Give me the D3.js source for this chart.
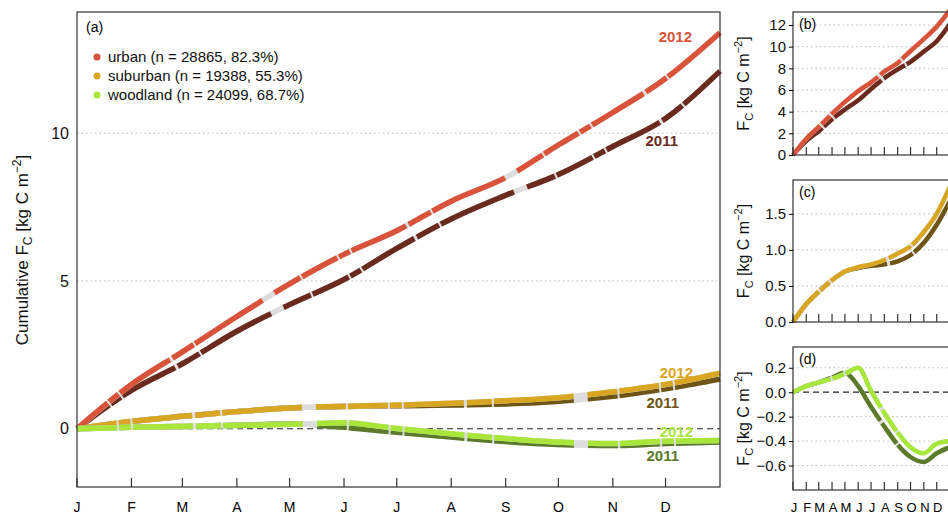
<!DOCTYPE html>
<html>
<head>
<meta charset="utf-8" />
<script src="https://cdn.jsdelivr.net/npm/d3@7"></script>
<style>
	* { margin:0px; }
	body { background:#fff; }
	text { font-family: "Liberation Sans", Arial, sans-serif; }
</style>
</head>
<body>
<svg id="chart" width="948" height="514"></svg>
<script>
// month positions (day of year) and labels
var monthDays = [0, 31, 60, 91, 121, 152, 182, 213, 244, 274, 305, 335, 366];
var monthLabels = ["J","F","M","A","M","J","J","A","S","O","N","D"];

// cumulative FC at start of each month + year end [kg C m-2]
var urban2012    = [0, 1.5, 2.6, 3.8, 4.9, 5.9, 6.7, 7.7, 8.5, 9.6, 10.7, 11.85, 13.4];
var urban2011    = [0, 1.3, 2.2, 3.3, 4.2, 5.05, 6.1, 7.1, 7.9, 8.6, 9.55, 10.5, 12.1];
var suburban2012 = [0, 0.25, 0.42, 0.58, 0.7, 0.76, 0.8, 0.86, 0.95, 1.05, 1.25, 1.5, 1.88];
var suburban2011 = [0, 0.25, 0.42, 0.58, 0.7, 0.75, 0.78, 0.8, 0.84, 0.93, 1.1, 1.35, 1.68];
var woodland2012 = [0, 0.05, 0.08, 0.11, 0.15, 0.2, 0.01, -0.17, -0.33, -0.45, -0.5, -0.42, -0.4];
var woodland2011 = [0, 0.05, 0.08, 0.12, 0.16, 0.05, -0.12, -0.28, -0.43, -0.53, -0.57, -0.5, -0.45];

var series = [
	{name:"urban", y2012:urban2012, y2011:urban2011, c12:"#d9533a", c11:"#6b2a1e"},
	{name:"suburban", y2012:suburban2012, y2011:suburban2011, c12:"#d8a623", c11:"#6e5516"},
	{name:"woodland", y2012:woodland2012, y2011:woodland2011, c12:"#a9e63c", c11:"#5b7b2b"}
];
var legendText = ["urban (n = 28865, 82.3%)", "suburban (n = 19388, 55.3%)", "woodland (n = 24099, 68.7%)"];

var svg = d3.select("#chart");

function panel(g, x, y, yTicks, fmt, list, lw, isMain) {
	var x0 = x.range()[0], x1 = x.range()[1], y0 = y.range()[0], y1 = y.range()[1];
	// grid
	g.selectAll(".grid").data(yTicks.filter(function(d){ return d != 0; })).enter().append("line")
		.attr("x1", x0).attr("x2", x1).attr("y1", y).attr("y2", y)
		.attr("stroke", "#bbb").attr("stroke-dasharray", "1.5,3");
	// zero line
	if (y.domain()[0] < 0) {
		g.append("line").attr("x1", x0).attr("x2", x1).attr("y1", y(0)).attr("y2", y(0))
			.attr("stroke", "#222").attr("stroke-width", 1.2).attr("stroke-dasharray", "6,4");
	}
	var line = d3.line().x(function(d, i){ return x(monthDays[i]); }).y(function(d){ return y(d); })
		.curve(d3.curveMonotoneX);
	list.forEach(function(s) {
		[["y2011","c11"],["y2012","c12"]].forEach(function(k) {
			g.append("path").attr("d", line(s[k[0]])).attr("fill","none")
				.attr("stroke","#ddd").attr("stroke-width", lw);
			g.append("path").attr("d", line(s[k[0]])).attr("fill","none")
				.attr("stroke", s[k[1]]).attr("stroke-width", lw)
				.attr("stroke-dasharray", "40,2,12,2,60,3,25,2,80,14,30,2");
		});
	});
	// frame
	g.append("rect").attr("x", x0).attr("y", y1).attr("width", x1 - x0).attr("height", y0 - y1)
		.attr("fill","none").attr("stroke","#333").attr("stroke-width",1.2);
	// y axis
	g.append("g").attr("transform","translate(" + x0 + ",0)")
		.call(d3.axisLeft(y).tickValues(yTicks).tickFormat(fmt).tickSize(isMain ? 0 : 4).tickPadding(isMain ? 8 : 3))
		.call(function(a){ a.select(".domain").remove(); a.selectAll("text").attr("font-size", isMain ? 16 : 15).attr("fill","#111"); });
	// x ticks, pointing in
	g.selectAll(".xt").data(monthDays.slice(0,12)).enter().append("line")
		.attr("x1", x).attr("x2", x).attr("y1", y0).attr("y2", y0 - (isMain ? 9 : 8))
		.attr("stroke","#333").attr("stroke-width",1.2);
}

// main panel (a)
var xMain = d3.scaleLinear().domain([0, 366]).range([77, 720]);
var yMain = d3.scaleLinear().domain([-1.97, 14.1]).range([487, 12]);
var gA = svg.append("g");
panel(gA, xMain, yMain, [0, 5, 10], d3.format("d"), series, 5.5, true);
gA.selectAll(".ml").data(monthLabels).enter().append("text")
	.attr("x", function(d, i){ return xMain(monthDays[i]); }).attr("y", 512)
	.attr("text-anchor","middle").attr("font-size", 14).text(function(d){ return d; });
gA.append("text").attr("x", 86).attr("y", 32).attr("font-size", 14).text("(a)");
series.forEach(function(s, i) {
	gA.append("circle").attr("cx", 97).attr("cy", 57 + i * 19).attr("r", 3.5).attr("fill", s.c12);
	gA.append("text").attr("x", 108).attr("y", 62 + i * 19).attr("font-size", 15).attr("fill","#111").text(legendText[i]);
});
// year labels: [text, colour, right edge x, baseline y]
var yl = [
	["2012", "#d9533a", 692, 42], ["2011", "#6b2a1e", 678, 146],
	["2012", "#d8a623", 693, 378], ["2011", "#6e5516", 679, 408],
	["2012", "#a9e63c", 693, 437], ["2011", "#5b7b2b", 679, 461]
];
yl.forEach(function(d) {
	gA.append("text").attr("x", d[2]).attr("y", d[3])
		.attr("text-anchor","end").attr("font-size", 15).attr("font-weight","bold")
		.attr("fill", d[1]).text(d[0]);
});
// y label
var ylab = gA.append("text").attr("transform","translate(28,250) rotate(-90)")
	.attr("text-anchor","middle").attr("font-size", 17).attr("fill","#111");
ylab.append("tspan").text("Cumulative F");
ylab.append("tspan").attr("font-size", 12).attr("dy", 4).text("C");
ylab.append("tspan").attr("dy", -4).text(" [kg C m");
ylab.append("tspan").attr("font-size", 12).attr("dy", -7).text("\u22122");
ylab.append("tspan").attr("dy", 7).text("]");

// small panels
var xSmall = d3.scaleLinear().domain([0, 366]).range([793, 950]);
var small = [
	{s:[series[0]], dom:[0, 13.2], r:[155, 12], ticks:[0,2,4,6,8,10,12], fmt:d3.format("d"), lab:"(b)"},
	{s:[series[1]], dom:[0, 1.97], r:[322, 180], ticks:[0,0.5,1,1.5], fmt:d3.format(".1f"), lab:"(c)"},
	{s:[series[2]], dom:[-0.8, 0.37], r:[490, 347], ticks:[-0.6,-0.4,-0.2,0,0.2], fmt:d3.format(".1f"), lab:"(d)"}
];
small.forEach(function(p) {
	var g = svg.append("g");
	var y = d3.scaleLinear().domain(p.dom).range(p.r);
	panel(g, xSmall, y, p.ticks, p.fmt, p.s, 4.5, false);
	g.append("text").attr("x", 799).attr("y", p.r[1] + 17).attr("font-size", 14).text(p.lab);
	var cy = (p.r[0] + p.r[1]) / 2;
	var t = g.append("text").attr("transform","translate(749," + cy + ") rotate(-90)")
		.attr("text-anchor","middle").attr("font-size", 16).attr("fill","#111");
	t.append("tspan").text("F");
	t.append("tspan").attr("font-size", 11).attr("dy", 4).text("C");
	t.append("tspan").attr("dy", -4).text(" [kg C m");
	t.append("tspan").attr("font-size", 11).attr("dy", -7).text("\u22122");
	t.append("tspan").attr("dy", 7).text("]");
});
svg.selectAll(".sl").data(monthLabels).enter().append("text")
	.attr("x", function(d, i){ return xSmall(monthDays[i]) + 1; }).attr("y", 512)
	.attr("text-anchor","middle").attr("font-size", 13).text(function(d){ return d; });
</script>
</body>
</html>
